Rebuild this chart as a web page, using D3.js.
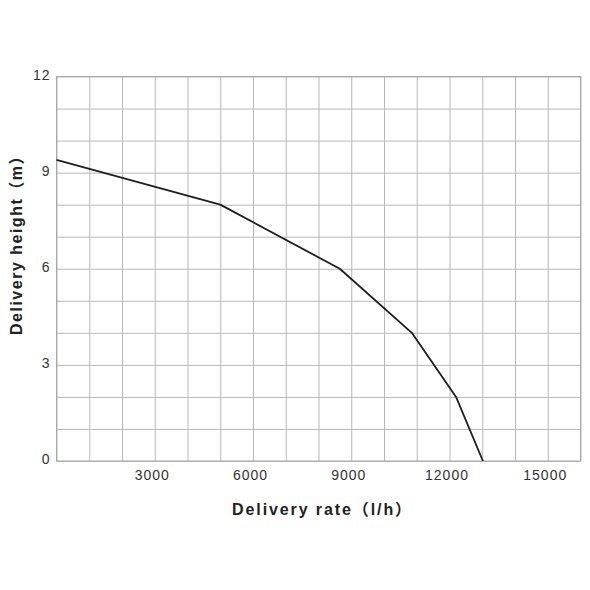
<!DOCTYPE html>
<html>
<head>
<meta charset="utf-8">
<script src="https://cdn.jsdelivr.net/npm/d3@7"></script>
<style>
  html, body { margin: 0; padding: 0; background: #fff; }
  svg { display: block; }
  .tick text { font-family: "Liberation Sans", Arial, sans-serif; }
</style>
</head>
<body>
<svg id="chart" width="590" height="590"></svg>
<script>
// Data
const rate = [0, 5000, 8650, 10850, 12200, 13020];      // l/h
const height = [9.4, 8.0, 6.0, 4.0, 2.0, 0.0];         // m
const xTickValues = [3000, 6000, 9000, 12000, 15000];
const yTickValues = [0, 3, 6, 9, 12];
const xTitle = "Delivery rate（l/h）";
const yTitle = "Delivery height（m）";

const svg = d3.select("#chart");
const L = 56.5, R = 580.5, T = 76.5, B = 461;
const x = d3.scaleLinear().domain([0, 16000]).range([L, R]);
const y = d3.scaleLinear().domain([0, 12]).range([B, T]);

// grid
const gridG = svg.append("g");
gridG.append("g")
  .attr("transform", `translate(0,${B})`)
  .call(d3.axisBottom(x).tickValues(d3.range(0, 16001, 1000)).tickSize(-(B - T)).tickFormat(""))
  .call(g => g.select(".domain").remove())
  .call(g => g.selectAll(".tick line").attr("stroke", "#b8b8b8").attr("stroke-width", 1));
gridG.append("g")
  .attr("transform", `translate(${L},0)`)
  .call(d3.axisLeft(y).tickValues(d3.range(0, 12.01, 1)).tickSize(-(R - L)).tickFormat(""))
  .call(g => g.select(".domain").remove())
  .call(g => g.selectAll(".tick line").attr("stroke", "#b8b8b8").attr("stroke-width", 1));

svg.append("rect")
  .attr("x", L).attr("y", T).attr("width", R - L).attr("height", B - T)
  .attr("fill", "none").attr("stroke", "#a8a8a8").attr("stroke-width", 1);

// x tick labels
const xa = svg.append("g")
  .attr("transform", `translate(0,${B})`)
  .call(d3.axisBottom(x).tickValues(xTickValues).tickSize(0).tickPadding(9).tickFormat(d3.format("d")));
xa.select(".domain").remove();
xa.selectAll(".tick text")
  .attr("font-size", 14).attr("fill", "#333").attr("dx", -3)
  .attr("letter-spacing", "1px");

// y tick labels
const ya = svg.append("g")
  .attr("transform", `translate(${L},0)`)
  .call(d3.axisLeft(y).tickValues(yTickValues).tickSize(0).tickPadding(6).tickFormat(d3.format("d")));
ya.select(".domain").remove();
ya.selectAll(".tick text")
  .attr("font-size", 14).attr("fill", "#333").attr("dy", "0.2em")
  .attr("letter-spacing", "1px");

// curve
const pts = rate.map((r, i) => [r, height[i]]);
svg.append("path")
  .datum(pts)
  .attr("fill", "none")
  .attr("stroke", "#1e1e1e")
  .attr("stroke-width", 1.8)
  .attr("stroke-linejoin", "round")
  .attr("d", d3.line().x(d => x(d[0])).y(d => y(d[1])));

// axis titles
svg.append("text")
  .attr("x", (L + R) / 2 + 4).attr("y", 515)
  .attr("text-anchor", "middle")
  .attr("font-family", "'Liberation Sans', Arial, 'Noto Sans CJK SC', sans-serif")
  .attr("font-weight", "bold").attr("font-size", 16)
  .attr("letter-spacing", "1.9px")
  .attr("fill", "#222")
  .text(xTitle);

svg.append("text")
  .attr("transform", "translate(22,241) rotate(-90)")
  .attr("text-anchor", "middle")
  .attr("font-family", "'Liberation Sans', Arial, 'Noto Sans CJK SC', sans-serif")
  .attr("font-weight", "bold").attr("font-size", 16)
  .attr("letter-spacing", "1.5px")
  .attr("fill", "#222")
  .text(yTitle);
</script>
</body>
</html>
